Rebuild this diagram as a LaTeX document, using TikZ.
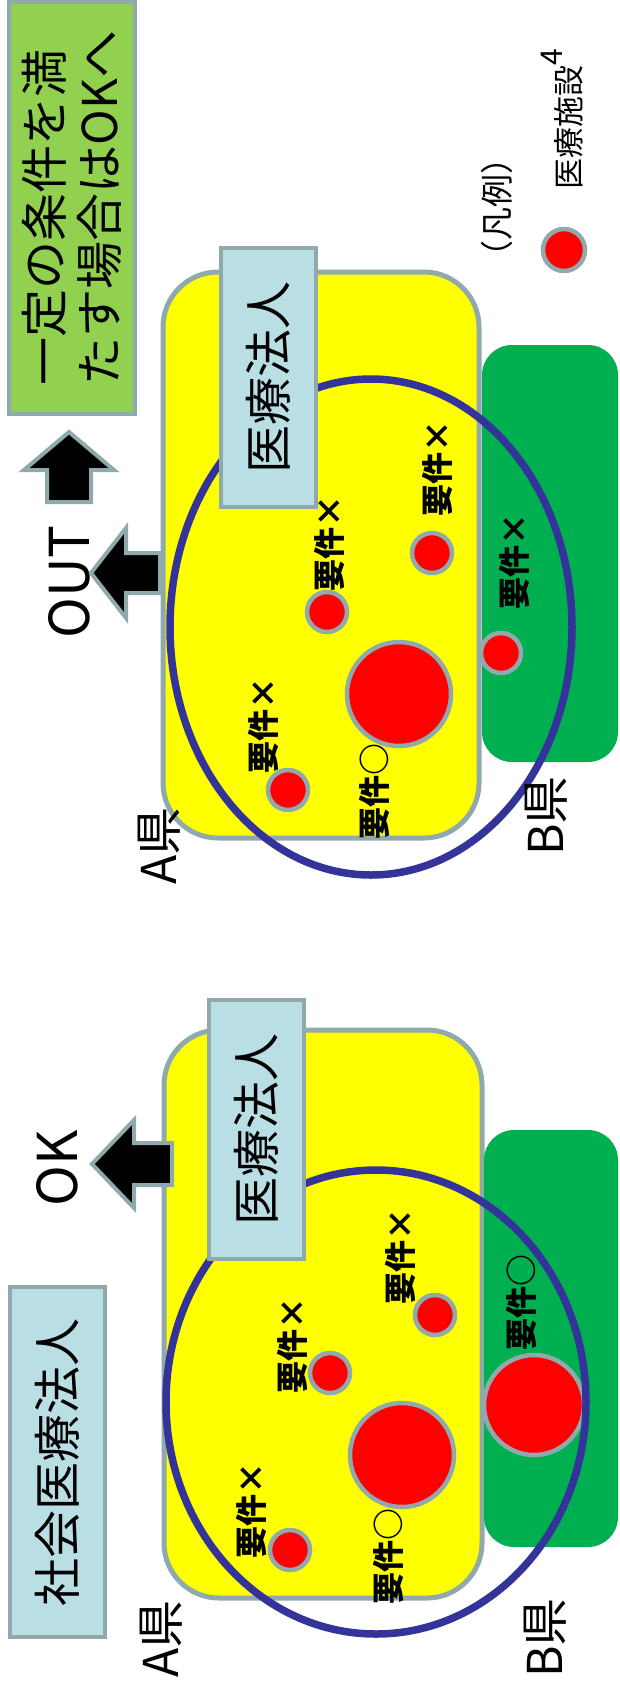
\documentclass[tikz,border=0pt]{standalone}
\usepackage{fontspec}
\setmainfont{Noto Sans CJK JP}
\definecolor{edge}{HTML}{8FA9AC}
\definecolor{lblue}{HTML}{B9DFE4}
\definecolor{lgreen}{HTML}{92D050}
\definecolor{dgreen}{HTML}{00B050}
\definecolor{navy}{HTML}{333399}
\definecolor{ylw}{HTML}{FFFF00}
\begin{document}
\begin{tikzpicture}[x=1pt,y=-1pt,
  txt/.style={rotate=90,inner sep=0,anchor=center},
  req/.style={txt,font=\fontsize{32}{32}\selectfont\bfseries},
  pref/.style={txt,font=\fontsize{48}{48}\selectfont},
  word/.style={txt,font=\fontsize{55}{55}\selectfont},
  fac/.style={circle,fill=red,draw=edge,line width=4.5pt,inner sep=0,minimum size=40pt},
  bigfac/.style={fac,minimum size=104pt},
  lbl/.style={rotate=90,draw=edge,fill=lblue,line width=4pt,inner sep=0,
    minimum width=259pt,minimum height=95pt,font=\fontsize{48}{48}\selectfont},
  ybox/.style={draw=edge,fill=ylw,line width=5pt,rounded corners=55pt},
  gbox/.style={fill=dgreen,rounded corners=30pt},
  ring/.style={draw=navy,line width=7.5pt},
  blockarrow/.style={fill=black,draw=edge,line width=4pt,line join=miter}]
\useasboundingbox (0,0) rectangle (619,1690);

% ---------- top panel ----------
\node[rotate=90,draw=edge,fill=lgreen,line width=4.5pt,inner sep=0,
  minimum width=412pt,minimum height=126pt,align=left,
  font=\fontsize{48}{55}\selectfont] (cond) at (72,208)
  {一定の条件を満\\たす場合はOKへ};

\node[txt,font=\fontsize{33}{33}\selectfont] (legend) at (497,207) {（凡例）};
\node[fac,minimum size=42pt] (ldot) at (564,250) {};
\node[rotate=90,anchor=base west,inner sep=0,font=\fontsize{31}{31}\selectfont] (ltext) at (580,190)
  {医療施設\raisebox{18pt}{\fontsize{30}{30}\selectfont 4}};

\draw[blockarrow] (69,432) -- (114,470) -- (91,470) -- (91,502) -- (47,502) -- (47,470) -- (24,470) -- cycle;
\node[word] (out) at (69,582) {OUT};
\draw[blockarrow] (91,573) -- (126,528) -- (126,553) -- (160,553) -- (160,593) -- (126,593) -- (126,618) -- cycle;

\draw[ybox] (163,272) rectangle (479,838);
\fill[gbox] (482,345) rectangle (618,762);

\node[bigfac] (tA) at (399,694) {};
\node[fac] (tB) at (327,612) {};
\node[fac] (tC) at (432,553) {};
\node[fac] (tD) at (501,653) {};
\node[fac] (tE) at (288,790) {};

\draw[ring] (371,627) ellipse [x radius=201, y radius=248];
\node[lbl] (corpT) at (268.5,377.5) {医療法人};

\node[req] at (329,543) {要件×};
\node[req] at (437,468) {要件×};
\node[req] at (514,561) {要件×};
\node[req] at (263,725) {要件×};
\node[req] at (374,791) {要件○};
\node[pref] (aT) at (159,846) {A県};
\node[pref] (bT) at (546,816) {B県};

% ---------- bottom panel ----------
\node[lbl,minimum width=350pt] (social) at (57.5,1462) {社会医療法人};
\node[word] (ok) at (57,1168) {OK};
\draw[ybox] (164,1030) rectangle (482,1598);
\fill[gbox] (484,1130) rectangle (618,1547);
\draw[blockarrow] (92,1164) -- (134,1120) -- (134,1143) -- (172,1143) -- (172,1185) -- (134,1185) -- (134,1208) -- cycle;

\node[bigfac] (bA) at (402,1455) {};
\node[fac] (bB) at (330,1373) {};
\node[fac] (bC) at (435,1315) {};
\node[fac] (bE) at (290,1550) {};
\node[fac,minimum size=100pt] (bD) at (534,1405) {};

\draw[ring] (376,1402) ellipse [x radius=210, y radius=232];
\node[lbl] (corpB) at (256.5,1129.5) {医療法人};

\node[req] at (251,1510) {要件×};
\node[req] at (292,1345) {要件×};
\node[req] at (400,1256) {要件×};
\node[req] at (388,1556) {要件○};
\node[req] at (521,1302) {要件○};
\node[pref] (aB) at (161,1639) {A県};
\node[pref] (bB2) at (545,1638) {B県};
\end{tikzpicture}
\end{document}
